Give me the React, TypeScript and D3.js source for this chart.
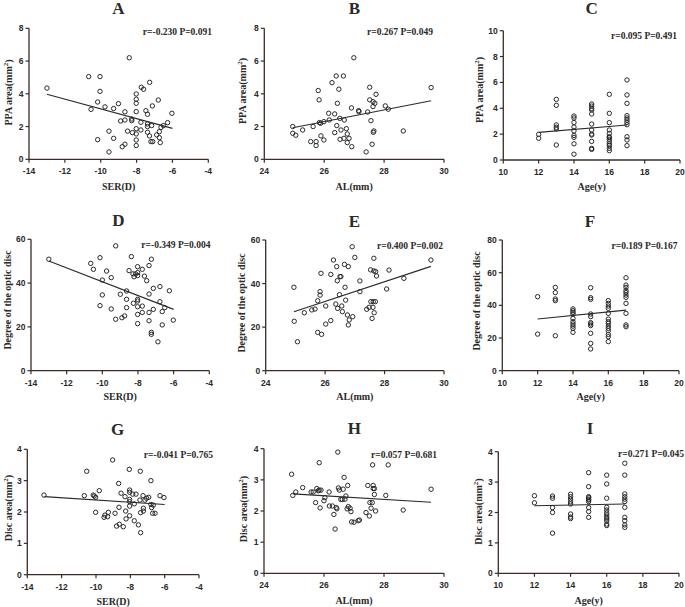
import React from "react";
import * as d3 from "d3";

type Pt = [number, number];

// ---------- DATA ----------
const titles = ["A", "B", "C", "D", "E", "F", "G", "H", "I"];
const xLabels = ["SER(D)", "AL(mm)", "Age(y)"];
const yLabels = ["PPA area", "Degree of the optic disc", "Disc area"];
const stats = [
  "r=-0.230 P=0.091", "r=0.267 P=0.049", "r=0.095 P=0.491",
  "r=-0.349 P=0.004", "r=0.400 P=0.002", "r=0.189 P=0.167",
  "r=-0.041 P=0.765", "r=0.057 P=0.681", "r=0.271 P=0.045",
];
const xDomains: Pt[] = [[-14, -4], [24, 30], [10, 20]];
const xTickVals = [[-14, -12, -10, -8, -6, -4], [24, 26, 28, 30], [10, 12, 14, 16, 18, 20]];
const yDomains: Pt[] = [[0, 8], [0, 8], [0, 10], [0, 60], [0, 60], [0, 80], [0, 4], [0, 4], [0, 4]];
const yTickSteps = [2, 2, 2, 20, 20, 20, 1, 1, 1];

const ptsA: Pt[] = [[-13.0,4.35],[-10.67,5.05],[-10.04,5.05],[-10.04,4.15],[-10.17,3.5],[-10.54,3.05],[-9.76,3.2],[-10.17,1.2],[-9.54,1.72],[-9.54,0.45],[-9.28,1.28],[-9.28,3.1],[-9.01,3.4],[-8.89,2.34],[-8.41,6.2],[-8.65,2.9],[-8.65,2.4],[-8.8,0.77],[-8.65,0.92],[-8.5,1.72],[-8.27,2.46],[-8.27,2.36],[-8.23,1.63],[-8.02,3.99],[-8.02,3.67],[-8.02,3.42],[-8.02,2.91],[-8.02,1.87],[-8.02,1.55],[-8.02,1.18],[-8.02,0.84],[-7.76,2.26],[-7.76,1.79],[-7.74,4.4],[-7.61,4.28],[-7.48,2.97],[-7.39,2.75],[-7.39,2.16],[-7.39,2.0],[-7.39,1.65],[-7.28,1.43],[-7.27,4.7],[-7.2,1.08],[-7.1,1.08],[-7.16,2.06],[-7.12,3.26],[-6.88,1.49],[-6.73,1.32],[-6.73,1.69],[-6.79,3.62],[-6.64,1.95],[-6.68,1.02],[-6.5,2.06],[-6.27,2.24],[-6.03,2.81]];
const ptsB: Pt[] = [[24.95,2.0],[24.95,1.59],[25.05,1.47],[25.28,1.79],[25.63,2.0],[25.55,1.08],[25.73,1.08],[25.73,0.84],[25.8,4.2],[25.83,3.63],[25.84,2.24],[25.88,2.2],[25.89,1.43],[25.99,2.3],[25.99,1.18],[26.15,2.81],[26.17,2.4],[26.26,4.68],[26.35,2.77],[26.35,1.63],[26.4,5.09],[26.42,2.06],[26.44,3.42],[26.49,4.28],[26.52,2.5],[26.56,1.79],[26.53,1.22],[26.64,5.09],[26.66,1.28],[26.67,2.4],[26.74,1.87],[26.77,1.55],[26.77,1.02],[26.83,1.28],[26.92,0.77],[26.91,3.14],[26.99,6.2],[27.15,2.97],[27.16,2.91],[27.4,0.45],[27.45,2.89],[27.52,4.4],[27.52,3.63],[27.56,2.36],[27.6,0.92],[27.63,3.52],[27.63,3.22],[27.64,1.65],[27.66,1.73],[27.69,3.42],[27.73,3.97],[28.04,3.26],[28.14,3.06],[28.64,1.73],[29.57,4.38]];
const ptsC: Pt[] = [[12,1.98],[12,1.68],[13,4.69],[13,4.23],[13,2.71],[13,2.53],[13,2.4],[13,1.16],[14,3.4],[14,3.25],[14,2.9],[14,2.55],[14,2.25],[14,1.9],[14,1.75],[14,1.25],[14,0.45],[15,4.33],[15,4.17],[15,3.99],[15,3.87],[15,3.56],[15,2.78],[15,2.32],[15,2.0],[15,1.93],[15,1.44],[15,0.9],[15,0.82],[16,5.08],[16,3.61],[16,2.89],[16,2.32],[16,2.06],[16,1.8],[16,1.73],[16,1.6],[16,1.42],[16,1.24],[16,1.11],[16,0.9],[16,0.72],[17,6.19],[17,5.03],[17,4.38],[17,3.43],[17,3.25],[17,3.09],[17,2.91],[17,2.73],[17,1.8],[17,1.55],[17,1.11]];
const ptsD: Pt[] = [[-13.0,50.9],[-10.65,49.0],[-10.5,46.3],[-10.13,51.6],[-10.13,29.7],[-10.0,41.4],[-10.0,34.6],[-9.76,45.5],[-9.5,42.5],[-9.5,28.2],[-9.25,57.0],[-9.25,23.5],[-8.99,34.9],[-8.9,24.2],[-8.75,25.0],[-8.64,28.8],[-8.64,32.6],[-8.64,36.4],[-8.5,45.7],[-8.37,52.1],[-8.28,44.2],[-8.22,42.9],[-8.26,30.8],[-8.13,44.2],[-8.02,47.5],[-8.02,44.8],[-8.02,43.4],[-8.02,32.6],[-8.02,31.8],[-8.02,29.2],[-8.02,25.7],[-8.02,21.5],[-7.76,29.5],[-7.76,26.6],[-7.76,46.3],[-7.64,43.2],[-7.51,41.1],[-7.38,48.0],[-7.38,35.0],[-7.38,26.6],[-7.38,22.8],[-7.25,17.5],[-7.25,16.6],[-7.25,50.9],[-7.14,28.0],[-7.14,37.6],[-6.88,13.2],[-6.77,38.4],[-6.77,31.5],[-6.64,27.0],[-6.64,20.9],[-6.5,28.8],[-6.24,36.5],[-6.02,23.1]];
const ptsE: Pt[] = [[24.95,38.3],[24.96,22.7],[25.07,13.3],[25.3,26.6],[25.55,27.9],[25.66,28.3],[25.75,32.1],[25.75,17.6],[25.83,36.3],[25.83,34.7],[25.86,44.7],[25.88,16.7],[26.02,29.7],[26.02,21.4],[26.19,44.2],[26.19,23.0],[26.28,50.8],[26.36,30.6],[26.39,47.8],[26.41,41.3],[26.42,28.6],[26.48,34.9],[26.5,43.2],[26.53,43.2],[26.56,29.7],[26.58,27.1],[26.65,48.8],[26.67,38.3],[26.69,32.4],[26.75,25.6],[26.78,21.0],[26.78,47.8],[26.81,23.3],[26.91,56.9],[26.93,24.8],[27.0,52.0],[27.17,41.2],[27.17,36.3],[27.4,28.2],[27.48,29.1],[27.53,46.3],[27.54,31.7],[27.58,24.0],[27.61,29.1],[27.62,31.7],[27.64,51.6],[27.64,45.8],[27.65,26.6],[27.69,31.7],[27.7,45.5],[27.73,43.5],[28.07,37.5],[28.15,46.2],[28.65,42.4],[29.56,50.8]];
const ptsF: Pt[] = [[12,45.3],[12,22.4],[13,51.0],[13,47.8],[13,43.9],[13,42.9],[13,21.4],[14,37.8],[14,36.7],[14,35.7],[14,34.7],[14,32.0],[14,30.0],[14,28.6],[14,27.3],[14,25.9],[14,23.5],[15,50.8],[15,44.7],[15,43.7],[15,34.7],[15,33.1],[15,29.4],[15,28.6],[15,27.6],[15,22.9],[15,16.7],[15,13.3],[16,42.9],[16,41.2],[16,39.6],[16,38.2],[16,35.1],[16,31.6],[16,30.0],[16,29.0],[16,27.3],[16,25.9],[16,24.5],[16,22.2],[16,20.8],[16,17.8],[17,56.9],[17,52.4],[17,51.0],[17,49.0],[17,47.8],[17,46.3],[17,44.9],[17,41.2],[17,35.1],[17,28.0],[17,26.9]];
const ptsG: Pt[] = [[-13.03,2.54],[-10.68,2.52],[-10.54,3.3],[-10.16,2.54],[-10.1,2.51],[-10.02,2.47],[-10.02,1.99],[-9.81,2.68],[-9.53,1.83],[-9.48,1.9],[-9.32,1.85],[-9.28,1.99],[-9.03,3.66],[-8.89,1.96],[-8.8,1.55],[-8.68,2.91],[-8.66,2.15],[-8.64,1.61],[-8.54,2.6],[-8.41,1.53],[-8.31,2.49],[-8.27,2.03],[-8.25,1.78],[-8.06,3.36],[-8.04,2.7],[-8.04,2.63],[-8.04,2.4],[-8.04,2.33],[-8.04,2.19],[-8.04,1.88],[-7.86,2.57],[-7.77,2.26],[-7.77,1.72],[-7.67,2.57],[-7.53,1.59],[-7.44,2.38],[-7.42,3.3],[-7.4,1.98],[-7.4,1.34],[-7.26,2.52],[-7.24,2.12],[-7.24,2.03],[-7.15,2.38],[-7.05,2.44],[-6.93,2.47],[-6.8,3.0],[-6.8,2.24],[-6.76,2.14],[-6.7,1.96],[-6.66,2.22],[-6.56,1.96],[-6.27,2.52],[-6.04,2.46]];
const ptsH: Pt[] = [[24.92,3.18],[24.96,2.5],[25.06,2.61],[25.29,2.75],[25.57,2.61],[25.64,2.61],[25.72,2.27],[25.76,2.72],[25.81,2.65],[25.84,3.55],[25.84,2.67],[25.87,2.1],[25.9,2.67],[26.0,2.33],[26.03,2.43],[26.17,2.61],[26.18,2.16],[26.28,2.16],[26.33,1.89],[26.37,1.42],[26.41,2.11],[26.43,2.07],[26.46,3.89],[26.48,2.74],[26.51,2.67],[26.56,2.37],[26.61,2.37],[26.64,2.7],[26.67,3.08],[26.7,2.38],[26.73,2.48],[26.77,2.07],[26.79,2.82],[26.81,2.14],[26.87,2.09],[26.9,1.98],[26.92,1.65],[27.0,1.64],[27.14,1.69],[27.18,1.71],[27.4,1.95],[27.46,2.82],[27.51,1.84],[27.53,2.27],[27.57,2.09],[27.61,2.27],[27.62,3.48],[27.64,2.82],[27.64,2.72],[27.68,2.72],[27.68,2.53],[27.72,2.0],[28.06,2.5],[28.14,3.48],[28.64,2.03],[29.57,2.7]];
const ptsI: Pt[] = [[12,2.55],[12,2.32],[13,2.54],[13,2.47],[13,2.16],[13,2.0],[13,1.32],[14,2.6],[14,2.52],[14,2.44],[14,2.35],[14,2.28],[14,1.95],[14,1.85],[14,1.8],[15,3.31],[15,2.85],[15,2.52],[15,2.49],[15,2.44],[15,2.41],[15,2.36],[15,2.16],[15,2.03],[15,1.84],[16,3.23],[16,2.94],[16,2.47],[16,2.17],[16,2.08],[16,1.99],[16,1.92],[16,1.84],[16,1.79],[16,1.73],[16,1.62],[16,1.57],[17,3.62],[17,3.23],[17,2.61],[17,2.52],[17,2.44],[17,2.36],[17,2.17],[17,1.84],[17,1.73],[17,1.59],[17,1.51]];
const allPts = [ptsA, ptsB, ptsC, ptsD, ptsE, ptsF, ptsG, ptsH, ptsI];

// regression line endpoints [x0, y0, x1, y1]
const fitLines = [
  [-13, 3.97, -6, 1.89], [24.95, 1.93, 29.57, 3.58], [12, 2.14, 17, 2.71],
  [-13, 50.1, -6, 28.0], [24.95, 27.1, 29.56, 47.9], [12, 31.6, 17, 37.1],
  [-13, 2.49, -6, 2.24], [24.96, 2.55, 29.57, 2.28], [12, 2.22, 17, 2.28],
];

// ---------- LAYOUT (pixels) ----------
// [xLeft, xRight, yTop, yBottom, titleX, titleY, statRight, statY, yLabelX, yLabelY, xLabelY]
const layout = [
  [29, 208.3, 28.3, 159.3, 118.3, 14, 212, 35, 12, 92.5, 190],
  [264.3, 444, 28.3, 159.3, 354.3, 14, 433, 35, 246, 91, 190],
  [503.3, 680, 30.7, 160, 591.7, 14, 677, 38.5, 482.5, 90, 190],
  [31, 209.3, 239.3, 370.7, 118.3, 226, 210.5, 248, 10.5, 300, 400],
  [265.7, 444, 240, 370.7, 354.3, 226.5, 443, 248.5, 245, 303, 400],
  [502.3, 679, 240, 370.7, 590, 226.5, 677.5, 248.5, 480, 301, 400],
  [27.3, 199, 449.3, 574.7, 117.7, 435, 213, 457.5, 12, 508, 605],
  [264, 444, 448.7, 573.3, 354.3, 434.3, 437, 457.5, 247, 509, 604],
  [498.3, 679, 451.7, 573.3, 590, 434, 684, 456.5, 482, 511.5, 604],
];

const AXIS = "#3a2c26";
const INK = "#2a2a2a";
const SERIF = "'Liberation Serif', 'Times New Roman', serif";
const SANS = "'Liberation Sans', Arial, sans-serif";

function Panel({ i }: { i: number }) {
  const [xl, xr, yt, yb, tx, ty, sx, sy, ylx, yly, xly] = layout[i];
  const col = i % 3;
  const x = d3.scaleLinear().domain(xDomains[col]).range([xl, xr]);
  const y = d3.scaleLinear().domain(yDomains[i]).range([yb, yt]);
  const yTicks = d3.range(yDomains[i][0], yDomains[i][1] + 1e-9, yTickSteps[i]);
  const f = fitLines[i];
  const line = d3.line<Pt>().x((d) => x(d[0])).y((d) => y(d[1]));
  const row = Math.floor(i / 3);
  const withUnit = row !== 1;
  return (
    <g>
      <text x={tx} y={ty} textAnchor="middle" fontFamily={SERIF} fontWeight="bold" fontSize={17} fill={INK}>
        {titles[i]}
      </text>
      {/* axes */}
      <line x1={xl} x2={xr} y1={yb} y2={yb} stroke={AXIS} strokeWidth={1.3} />
      <line x1={xl} x2={xl} y1={yt} y2={yb} stroke={AXIS} strokeWidth={1.3} />
      {xTickVals[col].map((v) => (
        <g key={"x" + v}>
          <line x1={x(v)} x2={x(v)} y1={yb} y2={yb + 3.5} stroke={AXIS} strokeWidth={1.2} />
          <text x={x(v)} y={yb + 15} textAnchor="middle" fontFamily={SANS} fontWeight="bold" fontSize={8.5} fill={INK}>
            {v}
          </text>
        </g>
      ))}
      {yTicks.map((v) => (
        <g key={"y" + v}>
          <line x1={xl - 3.5} x2={xl} y1={y(v)} y2={y(v)} stroke={AXIS} strokeWidth={1.2} />
          <text x={xl - 5.5} y={y(v) + 3} textAnchor="end" fontFamily={SANS} fontWeight="bold" fontSize={8.5} fill={INK}>
            {v}
          </text>
        </g>
      ))}
      {/* points */}
      {allPts[i].map((p, k) => (
        <circle key={k} cx={x(p[0])} cy={y(p[1])} r={2.2} fill="none" stroke={INK} strokeWidth={1} />
      ))}
      {/* fit */}
      <path d={line([[f[0], f[1]], [f[2], f[3]]]) || ""} stroke={INK} strokeWidth={1.1} fill="none" />
      {/* stat */}
      <text x={sx} y={sy} textAnchor="end" fontFamily={SERIF} fontWeight="bold" fontSize={9.5} fill={INK}>
        {stats[i]}
      </text>
      {/* x label */}
      <text x={(xl + xr) / 2} y={xly} textAnchor="middle" fontFamily={SERIF} fontWeight="bold" fontSize={10} fill={INK}>
        {xLabels[col]}
      </text>
      {/* y label */}
      <text
        transform={`translate(${ylx},${yly}) rotate(-90)`}
        textAnchor="middle"
        fontFamily={SERIF}
        fontWeight="bold"
        fontSize={10}
        fill={INK}
      >
        {withUnit ? (
          <>
            {yLabels[row]}(mm
            <tspan dy={-4} fontSize={7}>2</tspan>
            <tspan dy={4}>)</tspan>
          </>
        ) : (
          yLabels[row]
        )}
      </text>
    </g>
  );
}

export default function App() {
  return (
    <svg width={685} height={607} style={{ display: "block", position: "absolute", left: 0, top: 0, background: "#fff" }}>
      <rect width={685} height={607} fill="#fff" />
      {titles.map((_, i) => (
        <Panel key={i} i={i} />
      ))}
    </svg>
  );
}
